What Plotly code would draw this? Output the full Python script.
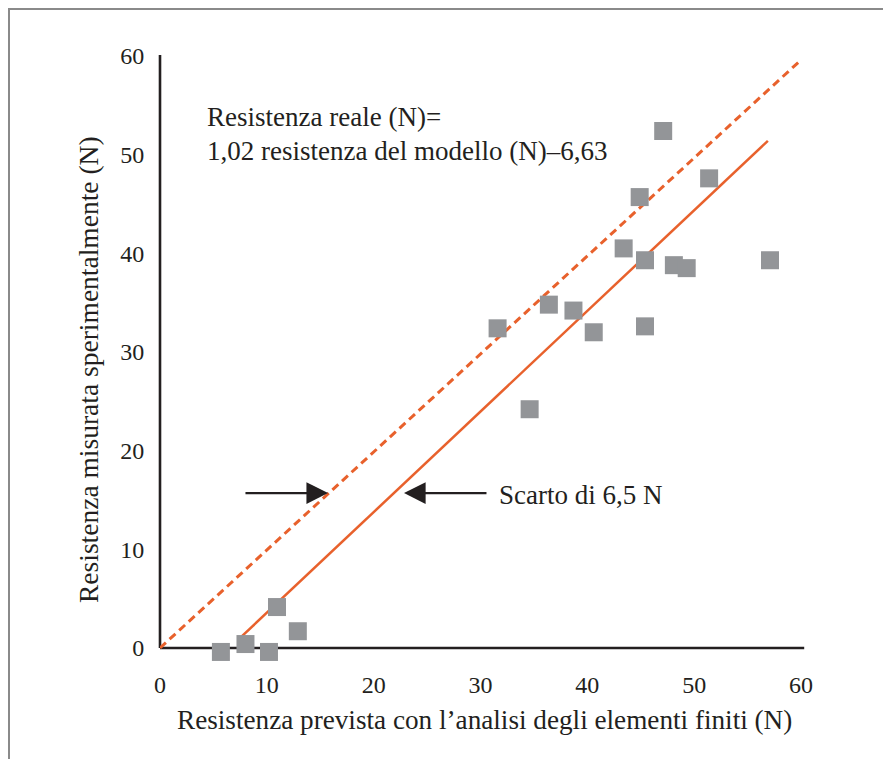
import plotly.graph_objects as go

# Data
pred_x = [5.7, 8.0, 10.2, 10.95, 12.9, 31.6, 34.6, 36.4, 38.7, 40.6, 43.4, 44.9, 45.4, 45.4, 47.1, 48.1, 49.3, 51.4, 57.1]
meas_y = [-0.4, 0.4, -0.4, 4.15, 1.7, 32.4, 24.2, 34.8, 34.2, 32.0, 40.5, 45.7, 39.3, 32.6, 52.4, 38.8, 38.5, 47.6, 39.3]

ideal_x = [0, 60]
ideal_y = [0, 59.6]

fit_x = [7.3, 56.9]
fit_y = [0.82, 51.4]

x_ticks = [0, 10, 20, 30, 40, 50, 60]
y_ticks = [0, 10, 20, 30, 40, 50, 60]

ORANGE = "#e8612c"
GRAY = "#939598"
INK = "#231f20"
FONT = "Liberation Serif"

W, H = 891, 759
L, T = 152, 48
PW = 641                      # pixels for 0..60 on x
Y0_PX = 640                   # pixel row of y = 0
UNIT_Y = (Y0_PX - T) / 60.0
BOTTOM = 651
Y_MIN = -(BOTTOM - Y0_PX) / UNIT_Y
R = W - L - PW
B = H - BOTTOM


def px_x(fx):
    return (fx - L) / PW


def px_y(fy):
    return (BOTTOM - fy) / (BOTTOM - T)


def dpx(v):
    return v / 60.0


def dpy(v):
    return (v - Y_MIN) / (60 - Y_MIN)


fig = go.Figure()
fig.add_trace(go.Scatter(x=ideal_x, y=ideal_y, mode="lines",
                         line=dict(color=ORANGE, width=3, dash="8px,5px"),
                         hoverinfo="skip", showlegend=False, cliponaxis=False))
fig.add_trace(go.Scatter(x=fit_x, y=fit_y, mode="lines",
                         line=dict(color=ORANGE, width=2.5),
                         hoverinfo="skip", showlegend=False, cliponaxis=False))
fig.add_trace(go.Scatter(x=pred_x, y=meas_y, mode="markers",
                         marker=dict(symbol="square", size=18, color=GRAY, line=dict(width=0)),
                         showlegend=False, cliponaxis=False))

# axis lines
fig.add_shape(type="line", xref="paper", yref="paper", x0=dpx(0), x1=dpx(60.3), y0=dpy(0), y1=dpy(0),
              line=dict(color=INK, width=2.6), layer="below")
fig.add_shape(type="line", xref="paper", yref="paper", x0=dpx(0), x1=dpx(0), y0=dpy(0), y1=dpy(60.1),
              line=dict(color=INK, width=2.6), layer="below")

# arrows
fig.add_annotation(x=15.73, y=15.7, ax=7.86, ay=15.7, xref="x", yref="y", axref="x", ayref="y",
                   showarrow=True, arrowhead=2, arrowsize=1.8, arrowwidth=2.4, arrowcolor=INK, text="")
fig.add_annotation(x=22.84, y=15.7, ax=30.7, ay=15.7, xref="x", yref="y", axref="x", ayref="y",
                   showarrow=True, arrowhead=2, arrowsize=1.8, arrowwidth=2.4, arrowcolor=INK, text="")
fig.add_annotation(x=31.55, y=15.5, xref="x", yref="y", text="Scarto di 6,5 N", showarrow=False,
                   xanchor="left", yanchor="middle", font=dict(family=FONT, size=27, color=INK))

fig.add_annotation(x=4.2, y=53.8, xref="x", yref="y", text="Resistenza reale (N)=", showarrow=False,
                   xanchor="left", yanchor="middle", font=dict(family=FONT, size=27, color=INK))
fig.add_annotation(x=4.2, y=50.4, xref="x", yref="y", text="1,02 resistenza del modello (N)–6,63",
                   showarrow=False, xanchor="left", yanchor="middle",
                   font=dict(family=FONT, size=27, color=INK))

# axis titles
fig.add_annotation(x=px_x(476), y=px_y(712), xref="paper", yref="paper",
                   text="Resistenza prevista con l’analisi degli elementi finiti (N)", showarrow=False,
                   xanchor="center", yanchor="middle", font=dict(family=FONT, size=27.2, color=INK))
fig.add_annotation(x=px_x(80), y=px_y(362), xref="paper", yref="paper",
                   text="Resistenza misurata sperimentalmente (N)", showarrow=False, textangle=-90,
                   xanchor="center", yanchor="middle", font=dict(family=FONT, size=27.5, color=INK))

# frame (top and left edges of the printed box)
fig.add_shape(type="line", xref="paper", yref="paper", x0=px_x(0), x1=px_x(W + 20),
              y0=px_y(1), y1=px_y(1), line=dict(color="#8a8a8a", width=2))
fig.add_shape(type="line", xref="paper", yref="paper", x0=px_x(1), x1=px_x(1),
              y0=px_y(0), y1=px_y(H + 20), line=dict(color="#8a8a8a", width=2))

fig.update_xaxes(range=[0, 60], tickvals=x_ticks, ticktext=[str(v) for v in x_ticks],
                 showgrid=False, zeroline=False, showline=False,
                 ticks="outside", tickcolor="rgba(0,0,0,0)", ticklen=4,
                 tickfont=dict(family=FONT, size=24, color=INK))
fig.update_yaxes(range=[Y_MIN, 60], tickvals=y_ticks, ticktext=[str(v) for v in y_ticks],
                 showgrid=False, zeroline=False, showline=False,
                 ticks="outside", tickcolor="rgba(0,0,0,0)", ticklen=10,
                 tickfont=dict(family=FONT, size=24, color=INK))

fig.update_layout(width=W, height=H, margin=dict(l=L, r=R, t=T, b=B),
                  paper_bgcolor="white", plot_bgcolor="white", showlegend=False)

fig.write_html("out.html")
